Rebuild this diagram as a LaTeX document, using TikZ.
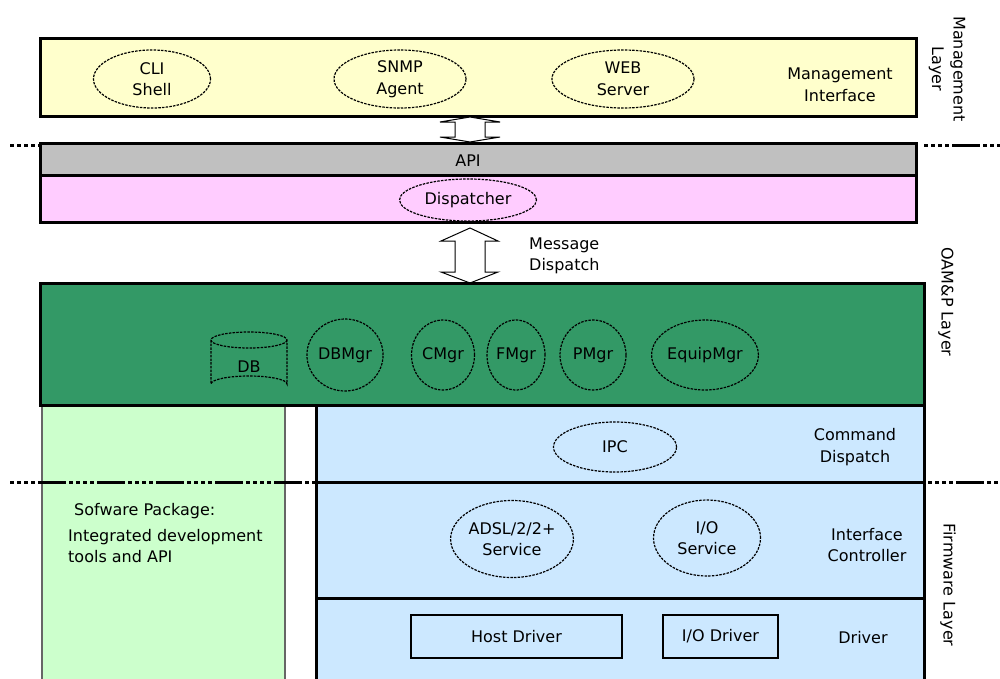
\documentclass[tikz,border=0pt]{standalone}
\usepackage{fontspec}
\setmainfont{DejaVu Sans}
\usetikzlibrary{shapes.geometric}
\definecolor{mgmtfill}{HTML}{FFFFCC}
\definecolor{apifill}{HTML}{C0C0C0}
\definecolor{dispfill}{HTML}{FFCCFF}
\definecolor{oamfill}{HTML}{339966}
\definecolor{swfill}{HTML}{CCFFCC}
\definecolor{fwfill}{HTML}{CCE8FF}
\begin{document}
\begin{tikzpicture}[x=1pt,y=-1pt,
  font=\fontsize{16}{21.5}\selectfont,
  layer/.style={draw=black, line width=3pt},
  oval/.style={ellipse, draw=black, dash pattern=on 2.5pt off 1.2pt, line width=1.2pt, inner sep=0pt, align=center},
  drvbox/.style={rectangle, draw=black, line width=1.5pt, inner sep=0pt},
  lbl/.style={align=center, inner sep=0pt},
  sidelbl/.style={align=center, inner sep=0pt, rotate=-90},
  sepline/.style={line width=3pt, dash pattern=on 4pt off 3pt on 4pt off 3pt on 4pt off 3pt on 4pt off 3pt on 28pt off 3pt},
  blockarrow/.style={draw=black, fill=white, line width=1pt, line join=miter}]
\useasboundingbox (0,0) rectangle (1000,678);
\fill[white] (0,0) rectangle (1000,678);

% Management interface
\draw[layer, fill=mgmtfill] (40,38) rectangle (916,116);
\node[oval, minimum width=117pt, minimum height=58pt] (cli) at (152,79) {CLI\\Shell};
\node[oval, minimum width=132pt, minimum height=58pt] (snmp) at (400,79) {SNMP\\Agent};
\node[oval, minimum width=142pt, minimum height=58pt] (web) at (623,79) {WEB\\Server};
\node[lbl] (mgmtlbl) at (840,85) {Management\\Interface};
\node[sidelbl] (mgmtlayer) at (947,69) {Management\\Layer};

% separator 1
\draw[sepline] (10,145) -- (40,145);
\draw[sepline] (924,145) -- (1000,145);

% API and dispatcher
\draw[layer, fill=apifill] (40,143) rectangle (916,175);
\draw[layer, fill=dispfill] (40,175) rectangle (916,222);
\node[lbl] (api) at (468,161) {API};
\node[oval, minimum width=137pt, minimum height=42pt] (disp) at (468,200) {Dispatcher};

% small double arrow
\coordinate (a1) at (470,117);
\coordinate (a2) at (470,142);
\draw[blockarrow] (a1) -- (500,122) -- (485,122) -- (485,137) -- (500,137) -- (a2)
  -- (440,137) -- (455,137) -- (455,122) -- (440,122) -- cycle;

% message dispatch arrow
\coordinate (b1) at (470,228);
\coordinate (b2) at (470,283);
\draw[blockarrow] (b1) -- (498,241) -- (485,241) -- (485,272) -- (498,272) -- (b2)
  -- (441,272) -- (455,272) -- (455,241) -- (441,241) -- cycle;
\node[lbl, align=left, anchor=west] (msg) at (529,256) {Message\\Dispatch};

% lower areas
\fill[swfill] (42,405) rectangle (285,680);
\draw[black!60, line width=1.3pt] (42,405) -- (42,680) (285,405) -- (285,680);
\fill[fwfill] (316,405) rectangle (924,680);
\draw[line width=3pt] (316,404) -- (316,680) (924,404) -- (924,680) (316,598) -- (924,598) (316,482) -- (924,482);
\draw[sepline] (10,482) -- (316,482);
\draw[sepline] (928,482) -- (1000,482);

% OAM box
\draw[layer, fill=oamfill] (40,283) rectangle (924,405);
\node[sidelbl] (oamlayer) at (946,302) {OAM\&P Layer};

% DB cylinder
\draw[black, dash pattern=on 2.5pt off 1.2pt, line width=1.2pt]
  (249,340) ellipse [x radius=38, y radius=8]
  (211,340) -- (211,384) arc[start angle=180, end angle=360, x radius=38, y radius=8] -- (287,340);
\node[lbl] (db) at (249,367) {DB};
\node[oval, minimum width=76pt, minimum height=72pt] (dbmgr) at (345,355) {DBMgr};
\node[oval, minimum width=63pt, minimum height=70pt] (cmgr) at (443,355) {CMgr};
\node[oval, minimum width=58pt, minimum height=70pt] (fmgr) at (516,355) {FMgr};
\node[oval, minimum width=66pt, minimum height=70pt] (pmgr) at (593,355) {PMgr};
\node[oval, minimum width=104pt, minimum height=70pt] (equip) at (705,355) {EquipMgr};

% command dispatch
\node[oval, minimum width=123pt, minimum height=50pt] (ipc) at (615,447) {IPC};
\node[lbl] (cmdlbl) at (855,447) {Command\\Dispatch};

% interface controller
\node[oval, minimum width=120pt, minimum height=77pt] (adsl) at (512,539) {ADSL/2/2+\\Service};
\node[oval, minimum width=107pt, minimum height=76pt] (iosvc) at (707,538) {I/O\\Service};
\node[lbl] (iflbl) at (867,545) {Interface\\Controller};
\node[sidelbl] (fwlayer) at (948,585) {Firmware Layer};

% driver
\node[drvbox, minimum width=211pt, minimum height=43pt] (host) at (516.5,636.5) {Host Driver};
\node[drvbox, minimum width=115pt, minimum height=43pt] (iodrv) at (720.5,636.5) {I/O Driver};
\node[lbl] (drvlbl) at (863,638) {Driver};

% software package
\node[lbl, anchor=west] (swpkg) at (74,511) {Sofware Package:};
\node[lbl, align=left, anchor=north west] (swtxt) at (68,529) {Integrated development\\tools and API};
\end{tikzpicture}
\end{document}
